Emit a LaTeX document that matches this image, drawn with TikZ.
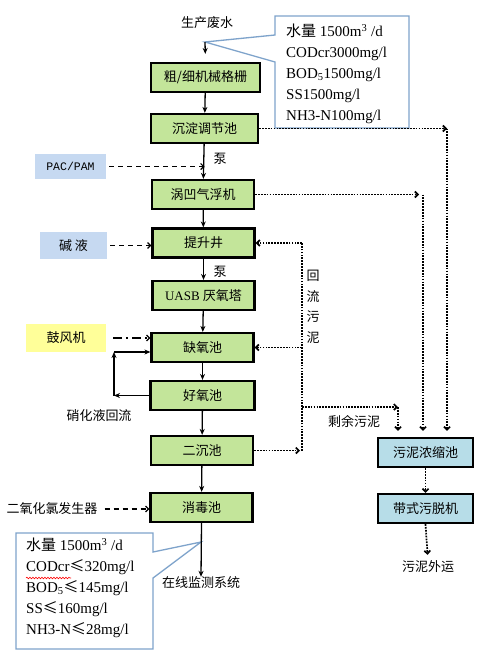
\documentclass[tikz,border=0pt]{standalone}
\usepackage{fontspec}
\setmainfont{Liberation Serif}
\newfontfamily\cjk{Noto Sans CJK SC}
\newfontfamily\pacfont{Liberation Mono}
\usepackage{tikz}
\usetikzlibrary{positioning}
\usetikzlibrary{calc}
\usetikzlibrary{arrows.meta}
\usetikzlibrary{decorations.pathmorphing}
\definecolor{procgreen}{HTML}{C3E59A}
\definecolor{sludgeblue}{HTML}{B7DDE8}
\definecolor{dosingblue}{HTML}{C6D9F1}
\definecolor{blowyellow}{HTML}{FFFF99}
\definecolor{calloutline}{HTML}{7EA3CB}
\tikzset{
	zh/.style={font=\cjk\fontsize{13}{15}\selectfont},
	proc/.style={zh, draw, line width=2.2pt, fill=procgreen, minimum width=102pt, minimum height=29pt, inner sep=0pt},
	sludge/.style={proc, fill=sludgeblue, minimum width=95pt},
	dosing/.style={zh, fill=dosingblue, inner sep=0pt},
	lbl/.style={zh, inner sep=0pt},
	flow/.style={line width=1.3pt, -{Stealth[length=6pt,width=5pt]}},
	dosearrow/.style={line width=1.2pt, dash pattern=on 5pt off 4pt, -{Straight Barb[length=3pt,width=6pt]}},
	blowarrow/.style={line width=1.2pt, dash pattern=on 9pt off 4pt on 2pt off 4pt, -{Straight Barb[length=3pt,width=6pt]}},
	dotline/.style={line width=1.7pt, dash pattern=on 1.7pt off 1.2pt},
	dotflow/.style={dotline, -{Straight Barb[length=3pt,width=6pt]}},
	callout/.style={draw=calloutline, line width=1.3pt, fill=white},
	info/.style={inner sep=0pt, align=left, anchor=north west, font=\fontsize{15}{21}\selectfont},
}
\begin{document}
\begin{tikzpicture}[x=1pt,y=-1pt]
			\useasboundingbox (0,0) rectangle (485,667);
			% main line
			\node at (207,23) (src) [lbl] {生产废水};
			\coordinate (srcend) at (205,42);
			\node at (205.5,77.5) (gs) [proc, minimum width=109pt] {粗/细机械格栅};
			\node at (204.5,128.5) (tj) [proc, minimum width=107pt] {沉淀调节池};
			\node at (203,194.5) (qf) [proc] {涡凹气浮机};
			\node at (203.5,243) (tsj) [proc] {提升井};
			\node at (203.5,295.5) (uasb) [proc] {\rmfamily UASB \cjk 厌氧塔};
			\node at (202.5,347.5) (qy) [proc] {缺氧池};
			\node at (202.5,395.5) (hy) [proc, minimum width=104pt] {好氧池};
			\node at (202,450.5) (ec) [proc] {二沉池};
			\node at (201.5,507.5) (xd) [proc] {消毒池};
			\node at (201,583) (jc) [lbl] {在线监测系统};
			\node at (220,159) (pump1) [lbl] {泵};
			\node at (220,272) (pump2) [lbl] {泵};
			% dosing
			\node at (70.5,166.5) (pac) [dosing, minimum width=71pt, minimum height=25pt, font=\pacfont\fontsize{11.5}{13}\selectfont] {PAC/PAM};
			\node at (73.5,245.5) (jy) [dosing, minimum width=67pt, minimum height=27pt] {碱\ 液};
			\node at (66,338) (gfj) [dosing, fill=blowyellow, minimum width=80pt, minimum height=28pt] {鼓风机};
			\node at (52,509) (clo2) [lbl] {二氧化氯发生器};
			\node at (99,416) (nitr) [lbl] {硝化液回流};
			% sludge
			\node at (425.5,452.5) (nsc) [sludge] {污泥浓缩池};
			\node at (425.5,508.5) (dt) [sludge] {带式污脱机};
			\node at (428,567) (ext) [lbl] {污泥外运};
			\node at (354,421) (surplus) [lbl] {剩余污泥};
			\node at (313,307) (rslbl) [lbl, align=center, font=\cjk\fontsize{13}{20.5}\selectfont] {回\\流\\污\\泥};
			\coordinate (tjout) at (447,131);
			\coordinate (qfout) at (423,196);
			\coordinate (rs) at (302,453);
			\coordinate (sp) at (398,407);
			\coordinate (nl) at (114,396);
			\coordinate (nu) at (114,352);
			\coordinate (outtip) at (201,542);
			% callouts
			\draw[callout] (275,16) -- (409,16) -- (409,128) -- (275,128) -- (275,62) -- (srcend) -- (275,35) -- cycle;
			\node at (286,24) (inq) [info] {{\cjk 水量} 1500m\textsuperscript{3} /d\\CODcr3000mg/l\\BOD\textsubscript{5}1500mg/l\\SS1500mg/l\\NH3-N100mg/l};
			\draw[callout] (16,533) -- (153,533) -- (153,552) -- (outtip) -- (153,578) -- (153,649) -- (16,649) -- cycle;
			\node at (26,538) (outq) [info] {{\cjk 水量} 1500m\textsuperscript{3} /d\\CODcr{\cjk ≤}320mg/l\\BOD\textsubscript{5}{\cjk ≤}145mg/l\\SS{\cjk ≤}160mg/l\\NH3-N{\cjk ≤}28mg/l};
			\draw[red, line width=0.6pt, decorate, decoration={snake, amplitude=0.8pt, segment length=3pt}] (26,578) -- (71,578);
			% flow arrows
			\draw[flow, shorten >=8pt] (srcend) -- (gs.north);
			\draw[flow] (gs) -- (tj);
			\draw[flow] (tj) -- (qf);
			\draw[flow] (qf) -- (tsj);
			\draw[flow] (tsj) -- (uasb);
			\draw[flow] (uasb) -- (qy);
			\draw[flow] (qy) -- (hy);
			\draw[flow] (hy) -- (ec);
			\draw[flow] (ec) -- (xd);
			\draw[flow] (xd.south) -- (jc.north);
			\draw[dosearrow, shorten <=3pt] (pac.east) -- (pac.east -| tj.south);
			\draw[dosearrow, shorten <=3pt] (jy.east) -- (jy.east -| tsj.west);
			\draw[blowarrow, shorten <=7pt] (gfj.east) -- (gfj.east -| qy.west);
			\draw[dosearrow, shorten <=7pt] (clo2.east) -- (clo2.east -| xd.west);
			\draw[flow] (hy.west) -- (hy.west -| nl);
			\draw[flow] (hy.west -| nl) -- (nu);
			\draw[flow] (nu) -- (nu -| qy.west);
			% sludge lines
			\draw[dotflow] (tj.east) -- (tj.east -| tjout);
			\draw[dotflow, shorten >=6pt] (tj.east -| tjout) -- (tjout |- nsc.north);
			\draw[dotflow, shorten >=4pt] (qf.east) -- (qf.east -| qfout);
			\draw[dotflow, shorten >=6pt] (qf.east -| qfout) -- (qfout |- nsc.north);
			\draw[dotflow, shorten >=2pt] (ec.east) -- (ec.east -| rs);
			\draw[dotline] (ec.east -| rs) -- (tsj.east -| rs);
			\draw[dotflow] (tsj.east -| rs) -- (tsj.east);
			\draw[dotflow] (qy.east -| rs) -- (qy.east);
			\draw[dotflow] (rs |- sp) -- (sp);
			\draw[dotflow, shorten >=6pt] (sp) -- (sp |- nsc.north);
			\draw[dotflow] (nsc) -- (dt);
			\draw[dotflow, shorten >=6pt] (dt.south) -- (ext.north);
\end{tikzpicture}
\end{document}
